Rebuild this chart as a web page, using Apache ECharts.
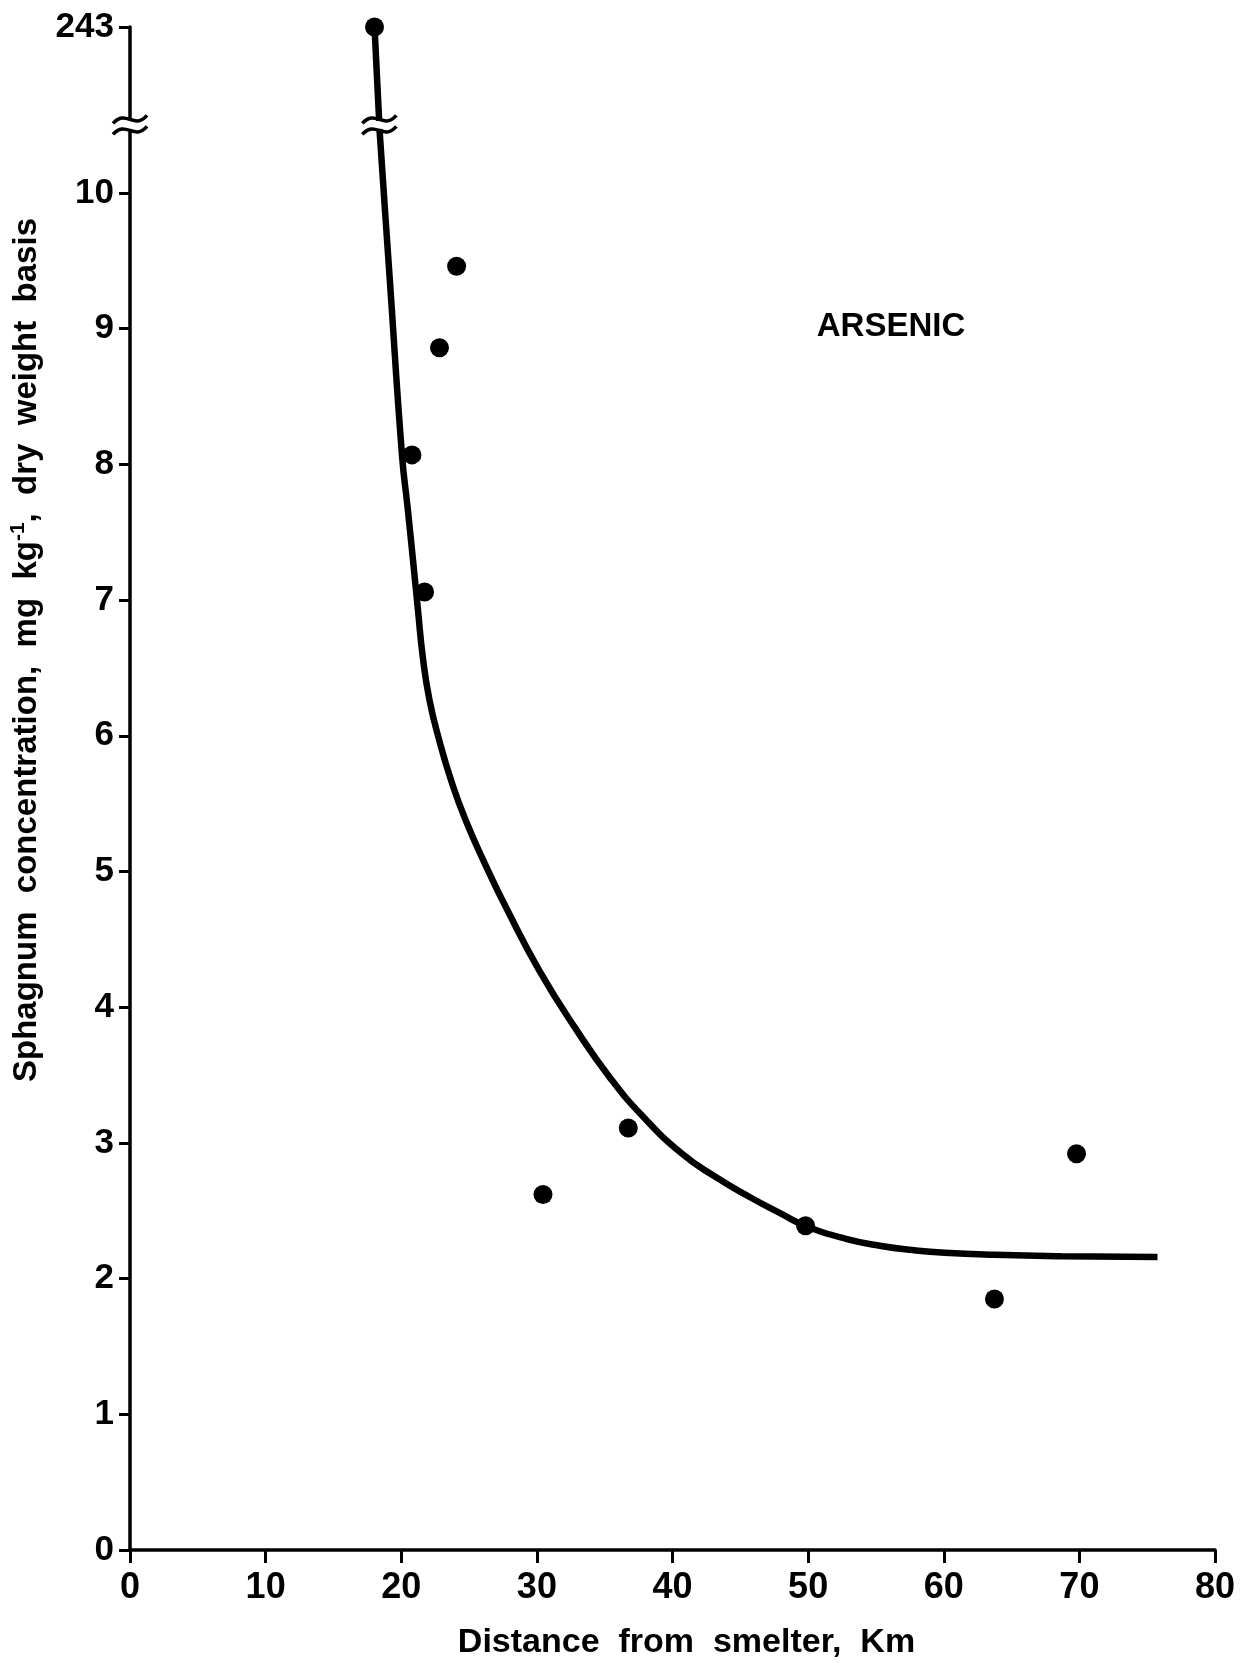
<!DOCTYPE html>
<html><head><meta charset="utf-8">
<script src="https://cdn.jsdelivr.net/npm/echarts@6/dist/echarts.min.js"></script>
<style>html,body{margin:0;padding:0;background:#fff}#c{width:1251px;height:1678px}</style>
</head><body><div id="c"></div>
<script>
// Measured points (distance km, concentration mg/kg)
const pointX = [18.03, 24.08, 22.82, 20.79, 21.72, 30.45, 36.74, 49.81, 63.74, 69.79];
const pointY = [243, 9.46, 8.86, 8.07, 7.06, 2.62, 3.11, 2.39, 1.85, 2.92];
// Fitted curve
const curveX = [18.03, 18.36, 18.41, 19.15, 20.07, 20.45, 20.86, 21.23, 21.60, 22.09, 22.82, 23.68, 24.78, 26.25, 27.85, 30.18, 32.87, 35.32, 37.77, 40.71, 43.16, 45.62, 48.07, 49.78, 52.72, 55.40, 57.70, 60.07, 63.75, 68.65, 75.76];
const curveY = [243, 242.33, 10.45, 9.37, 8.05, 7.70, 7.30, 6.93, 6.57, 6.26, 5.96, 5.67, 5.37, 5.04, 4.71, 4.27, 3.84, 3.49, 3.20, 2.92, 2.75, 2.605, 2.475, 2.39, 2.295, 2.24, 2.21, 2.19, 2.175, 2.165, 2.16];
const xTicks = [0, 10, 20, 30, 40, 50, 60, 70, 80];
const yTicks = [0, 1, 2, 3, 4, 5, 6, 7, 8, 9, 10, 243];
const breakStart = 10.45, breakEnd = 242.33;
const xTitle = 'Distance  from  smelter,  Km';
const panelLabel = 'ARSENIC';

const FF = "'Liberation Sans', Arial, Helvetica, sans-serif";
const chart = echarts.init(document.getElementById('c'), null, {renderer: 'canvas'});
chart.setOption({
  animation: false,
  backgroundColor: '#fff',
  grid: {left: 130, right: 36, top: 27, bottom: 128, containLabel: false},
  xAxis: {
    type: 'value', min: 0, max: 80, interval: 10,
    axisLine: {lineStyle: {color: '#000', width: 3.5}},
    axisTick: {customValues: xTicks, length: 13, lineStyle: {color: '#000', width: 3}},
    axisLabel: {customValues: xTicks, color: '#000', fontSize: 36, fontWeight: 'bold', fontFamily: FF, margin: 20},
    splitLine: {show: false},
    name: xTitle, nameLocation: 'middle', nameGap: 76,
    nameTextStyle: {color: '#000', fontSize: 34, fontWeight: 'bold', fontFamily: FF, padding: [0, 0, 0, 28]}
  },
  yAxis: {
    type: 'value', min: 0, max: 243,
    breaks: [{start: breakStart, end: breakEnd, gap: '0.92%'}],
    breakArea: {show: false},
    axisLine: {show: true, onZero: false, lineStyle: {color: '#000', width: 3.5}},
    axisTick: {show: true, customValues: yTicks, length: 11, lineStyle: {color: '#000', width: 3}},
    axisLabel: {customValues: yTicks, color: '#000', fontSize: 35, fontWeight: 'bold', fontFamily: FF, margin: 16},
    splitLine: {show: false}
  },
  series: [
    {type: 'line', data: curveX.map((x, i) => [x, curveY[i]]), smooth: 0.5,
     symbol: 'none', lineStyle: {color: '#000', width: 6.5}, clip: false, z: 2},
    {type: 'scatter', data: pointX.map((x, i) => [x, pointY[i]]), symbol: 'circle',
     symbolSize: 19, itemStyle: {color: '#000', opacity: 1}, clip: false, z: 3}
  ]
});

function breakMark(cx, cy) {
  const w = 17;
  const wave = (dy) => ({
    type: 'bezierCurve', z: 20,
    shape: {x1: cx - w, y1: cy + dy + 4, cpx1: cx - 4, cpy1: cy + dy - 11, cpx2: cx + 4, cpy2: cy + dy + 11, x2: cx + w, y2: cy + dy - 4},
    style: {stroke: '#000', lineWidth: 3.5, fill: null}
  });
  return [
    {type: 'rect', z: 19, shape: {x: cx - w + 3, y: cy - 4, width: 2 * w - 6, height: 8}, style: {fill: '#fff'}},
    wave(-5.5), wave(5.5)
  ];
}
const a1 = chart.convertToPixel({gridIndex: 0}, [0, breakStart]);
const a2 = chart.convertToPixel({gridIndex: 0}, [0, breakEnd]);
const c1 = chart.convertToPixel({gridIndex: 0}, [curveX[2], curveY[2]]);
const c2 = chart.convertToPixel({gridIndex: 0}, [curveX[1], curveY[1]]);
const g = [].concat(
  breakMark(a1[0], (a1[1] + a2[1]) / 2),
  breakMark((c1[0] + c2[0]) / 2, (c1[1] + c2[1]) / 2),
  [{
    type: 'text', x: 891, y: 327, z: 10,
    style: {text: panelLabel, fontSize: 33, fontWeight: 'bold', fontFamily: FF, fill: '#000', align: 'center', verticalAlign: 'middle'}
  }, {
    type: 'text', x: 27, y: 650, rotation: Math.PI / 2, z: 10,
    style: {
      text: 'Sphagnum  concentration,  mg  kg{sup|-1},  dry  weight  basis',
      fontSize: 33, fontWeight: 'bold', fontFamily: FF, fill: '#000', align: 'center', verticalAlign: 'middle',
      rich: {sup: {fontSize: 21, fontWeight: 'bold', fontFamily: FF, fill: '#000', padding: [0, 0, 18, 0]}}
    }
  }]
);
chart.setOption({graphic: g});
</script></body></html>
